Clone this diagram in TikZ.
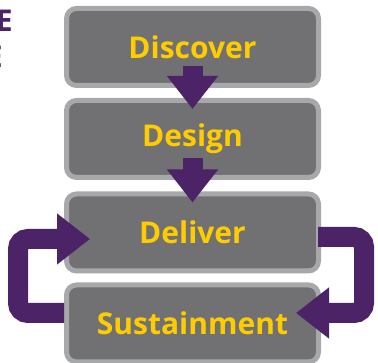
\documentclass[tikz,border=0pt]{standalone}
\usepackage{fontspec}
\setmainfont{Open Sans}
\usetikzlibrary{arrows.meta}

\definecolor{boxGray}{HTML}{717073}
\definecolor{rimGray}{HTML}{A7A8AA}
\definecolor{textGold}{HTML}{FFCC00}
\definecolor{loopPurple}{HTML}{4B2366}

\begin{document}
\begin{tikzpicture}[x=1pt,y=1pt,%%
  boxStyle/.style={draw=rimGray,fill=boxGray,line width=5pt,rounded corners=10pt,%%
    minimum width=252pt,minimum height=77pt,inner sep=0pt},%%
  labelStyle/.style={text=textGold,font=\fontsize{30}{36}\selectfont\bfseries},%%
  flowArrow/.style={-{Triangle[length=33pt,width=49pt]},line width=20pt,draw=loopPurple},%%
  loopArrow/.style={flowArrow,rounded corners=10pt},%%
  cutStyle/.style={text=loopPurple,inner sep=0pt,font=\fontsize{30}{36}\selectfont\bfseries}%%
]
%%
%%
\pgfmathsetmacro{\xmid}{192.5}  %% centre of the column of boxes
\pgfmathsetmacro{\dstart}{22}   %% shaft start above the south side
\pgfmathsetmacro{\dend}{11}     %% tip below the north side
\pgfmathsetmacro{\xleft}{18}    %% left loop
\pgfmathsetmacro{\xright}{364}  %% right loop
%%
\useasboundingbox (0,0) rectangle (378,363);
%%
%% The cut off title at the left edge.
\node[cutStyle,anchor=base east] (titleA) at (13,331) {E};
\node[cutStyle,anchor=base east] (titleB) at (3,295) {E};
%%
%% The four stages.
\node[boxStyle] (discover) at (\xmid,316) {};
\node[boxStyle] (design) at (\xmid,224) {};
\node[boxStyle] (deliver) at (\xmid,130.5) {};
\node[boxStyle] (sustainment) at (\xmid,39.5) {};
%% Label the stages.
\node[labelStyle] at (discover) {Discover};
\node[labelStyle] at (design) {Design};
\node[labelStyle] at (deliver) {Deliver};
\node[labelStyle] at (sustainment) {Sustainment};
%%
%% Arrows down the column.
\draw[flowArrow] ([yshift=\dstart]discover.south) -- ([yshift=-\dend]design.north);
\draw[flowArrow] ([yshift=\dstart]design.south) -- ([yshift=-\dend]deliver.north);
%%
%% The loop between deliver and sustainment.
\draw[loopArrow] ([yshift=10.5]sustainment.west) -| (\xleft,124) -- ([xshift=26,yshift=-6.5]deliver.west);
\draw[loopArrow] ([xshift=-3,yshift=-4.5]deliver.east) -| (\xright,50) -- ([xshift=-25,yshift=10.5]sustainment.east);
\end{tikzpicture}
\end{document}
